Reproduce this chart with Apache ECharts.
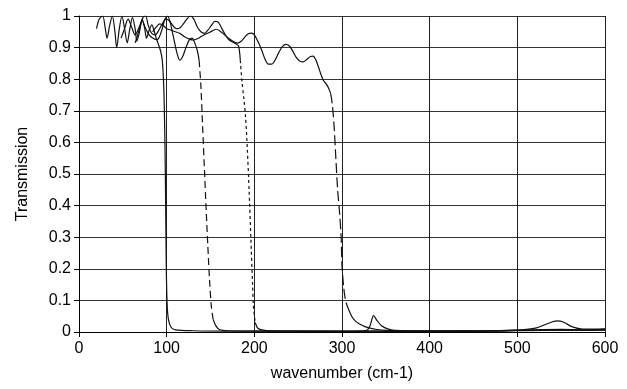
<!DOCTYPE html>
<html>
<head>
<meta charset="utf-8">
<script src="https://cdn.jsdelivr.net/npm/echarts@6/dist/echarts.min.js"></script>
<style>html,body{margin:0;padding:0;background:#fff}#c{width:627px;height:389px}</style>
</head>
<body>
<div id="c"></div>
<script>
// wavenumber (cm-1) vs transmission
const xTicks = [0, 100, 200, 300, 400, 500, 600];
const yTicks = [0, 0.1, 0.2, 0.3, 0.4, 0.5, 0.6, 0.7, 0.8, 0.9, 1];

// filter with edge near 100 cm-1 (solid)
const curveA = [
  [20,0.96],[23,0.99],[27,1.0],[30,0.96],[32,0.93],[35,0.97],[38,1.0],[41,0.95],[43,0.9],
  [46,0.96],[49,1.0],[52,0.96],[55,0.915],[58,0.96],[61,0.995],[64,0.96],[66,0.92],[69,0.95],
  [72,0.99],[75,0.96],[77,0.93],[80,0.955],[83,0.972],[86,0.95],[88,0.93],[90,0.915],[93,0.89],
  [95,0.86],[97,0.75],[98.5,0.5],[99.5,0.22],[100.5,0.09],[102,0.04],[105,0.015],[110,0.007],
  [130,0.004],[170,0.003],[220,0.003],[270,0.002],[320,0.003],[328,0.005],[332,0.02],
  [336,0.052],[340,0.036],[345,0.02],[352,0.01],[360,0.005],[400,0.003],[450,0.003],
  [480,0.004],[505,0.007],[522,0.013],[534,0.026],[545,0.035],[553,0.031],[562,0.017],
  [575,0.009],[600,0.01]
];
// filter with edge near 147 cm-1 (dashed)
const curveB = [
  [48,0.93],[52,0.96],[56,0.99],[60,0.965],[64,0.94],[68,0.96],[72,0.985],[76,0.96],[80,0.94],
  [84,0.93],[88,0.925],[91,0.93],[95,0.96],[98,0.99],[101,1.0],[104,0.98],[108,0.93],[112,0.88],
  [115,0.86],[118,0.87],[122,0.9],[126,0.925],[129,0.93],[132,0.915],[135,0.89],[137,0.86],
  [139,0.78],[141,0.65],[143,0.52],[145,0.39],[147,0.27],[149,0.16],[151,0.08],[153,0.04],
  [156,0.02],[160,0.008],[170,0.004],[210,0.003],[260,0.003],[310,0.002],[360,0.003],
  [410,0.003],[460,0.003],[490,0.005],[520,0.007],[550,0.008],[575,0.007],[600,0.008]
];
// filter with edge near 196 cm-1 (dotted)
const curveC = [
  [64,0.915],[67,0.94],[70,0.97],[73,0.995],[76,1.0],[79,0.97],[83,0.945],[87,0.94],[91,0.955],
  [95,0.975],[99,0.99],[103,0.985],[107,0.97],[111,0.96],[115,0.962],[119,0.975],[123,0.99],
  [127,1.0],[131,0.99],[135,0.965],[139,0.95],[143,0.945],[147,0.955],[151,0.97],[155,0.983],
  [159,0.98],[163,0.96],[167,0.94],[171,0.925],[175,0.918],[179,0.912],[182,0.905],[184,0.86],
  [186,0.79],[188,0.74],[190,0.68],[192,0.58],[194,0.45],[196,0.3],[198,0.15],[199,0.08],
  [201,0.03],[204,0.012],[210,0.006],[220,0.004],[260,0.003],[310,0.003],[360,0.002],
  [410,0.003],[460,0.004],[500,0.005],[530,0.006],[560,0.006],[600,0.007]
];
// filter with edge near 297 cm-1 (long dash)
const curveD = [
  [84,0.95],[88,0.965],[92,0.975],[96,0.97],[100,0.96],[105,0.955],[110,0.95],[115,0.945],
  [120,0.935],[125,0.928],[130,0.924],[135,0.928],[140,0.936],[144,0.942],[148,0.947],[152,0.953],
  [157,0.958],[161,0.952],[165,0.943],[169,0.933],[173,0.925],[177,0.918],[181,0.914],[185,0.92],
  [189,0.933],[193,0.944],[197,0.946],[200,0.94],[204,0.92],[208,0.895],[212,0.865],[216,0.848],
  [220,0.848],[224,0.862],[228,0.885],[232,0.903],[236,0.91],[240,0.905],[244,0.888],[248,0.868],
  [252,0.857],[256,0.855],[260,0.863],[264,0.872],[267,0.873],[270,0.862],[273,0.84],[276,0.815],
  [279,0.795],[282,0.785],[285,0.77],[287,0.755],[289,0.72],[291,0.65],[293,0.55],[295,0.45],
  [297,0.386],[299,0.3],[300,0.21],[302,0.14],[304,0.1],[307,0.075],[311,0.05],[315,0.035],
  [320,0.025],[326,0.017],[332,0.012],[340,0.008],[350,0.005],[370,0.003],[420,0.003],
  [470,0.003],[500,0.004],[530,0.005],[560,0.005],[600,0.006]
];

const curves = [
  { data: curveA, dash: null },
  { data: curveB, dash: [7, 4], from: 137, to: 153 },
  { data: curveC, dash: [3, 3], from: 184, to: 201 },
  { data: curveD, dash: [10, 4], from: 287, to: 307 }
];

const series = [];
curves.forEach(c => {
  let solid = c.data;
  if (c.dash) {
    solid = c.data.filter(p => p[0] <= c.from)
      .concat([[(c.from + c.to) / 2, null]])
      .concat(c.data.filter(p => p[0] >= c.to));
    series.push({
      type: 'line', data: c.data.filter(p => p[0] >= c.from && p[0] <= c.to),
      showSymbol: false, smooth: 0.3, animation: false,
      lineStyle: { color: '#111', width: 1.2, type: c.dash }
    });
  }
  series.push({
    type: 'line', data: solid, showSymbol: false, smooth: 0.3, animation: false,
    connectNulls: false,
    lineStyle: { color: '#111', width: 1.2 }
  });
});

const font = 'Liberation Sans, Arial, sans-serif';
const chart = echarts.init(document.getElementById('c'), null, { renderer: 'canvas' });
chart.setOption({
  backgroundColor: '#fff',
  animation: false,
  grid: { left: 79, right: 22, top: 16, bottom: 57 },
  xAxis: {
    type: 'value', min: xTicks[0], max: xTicks[xTicks.length - 1], interval: 100,
    name: 'wavenumber (cm-1)', nameLocation: 'middle', nameGap: 34,
    nameTextStyle: { color: '#000', fontSize: 16, fontFamily: font },
    axisLine: { show: true, onZero: false, lineStyle: { color: '#000', width: 1 } },
    axisTick: { show: true, length: 5, lineStyle: { color: '#000' } },
    axisLabel: { color: '#000', fontSize: 16, fontFamily: font, margin: 9 },
    splitLine: { show: true, lineStyle: { color: '#222', width: 1 } }
  },
  yAxis: {
    type: 'value', min: yTicks[0], max: yTicks[yTicks.length - 1], interval: 0.1,
    name: 'Transmission', nameLocation: 'middle', nameGap: 48, nameRotate: 90,
    nameTextStyle: { color: '#000', fontSize: 16, fontFamily: font },
    axisLine: { show: true, onZero: false, lineStyle: { color: '#000', width: 1 } },
    axisTick: { show: true, length: 5, lineStyle: { color: '#000' } },
    axisLabel: { color: '#000', fontSize: 16, fontFamily: font, margin: 8,
      formatter: v => String(Math.round(v * 10) / 10) },
    splitLine: { show: true, lineStyle: { color: '#333', width: 1 } }
  },
  series: series
});
</script>
</body>
</html>
